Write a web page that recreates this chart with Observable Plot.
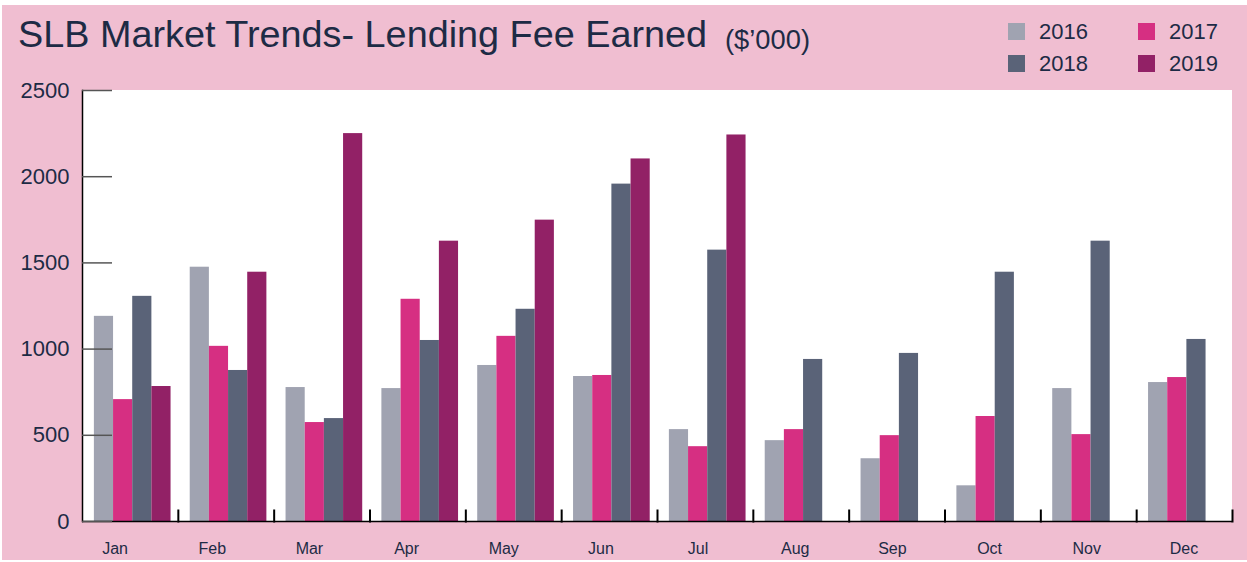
<!DOCTYPE html>
<html>
<head>
<meta charset="utf-8">
<script src="https://cdn.jsdelivr.net/npm/d3@7"></script>
<script src="https://cdn.jsdelivr.net/npm/@observablehq/plot@0.6"></script>
<style>
  body { margin: 0; background: #ffffff; }
  #wrap { position: relative; width: 1247px; height: 562px; overflow: hidden; font-family: "Liberation Sans", Arial, sans-serif; color: #1d2b45; }
  #pink { position: absolute; left: 2px; top: 5px; right: 0; bottom: 2px; background: #f0bed1; }
  #plotbg { position: absolute; left: 82px; top: 90px; width: 1150px; height: 431px; background: #ffffff; }
  .abs { position: absolute; white-space: nowrap; }
  #title { left: 18px; top: 16.4px; font-size: 37.8px; line-height: 37.8px; }
  #sub { left: 725px; top: 25.5px; font-size: 27.3px; line-height: 27.3px; }
  .lg { font-size: 22px; line-height: 22px; }
  .sw { width: 17px; height: 17px; }
  #chart, #xlab { position: absolute; left: 0; top: 0; }
</style>
</head>
<body>
<div id="wrap">
  <div id="pink"></div>
  <div id="plotbg"></div>
  <div id="title" class="abs">SLB Market Trends- Lending Fee Earned</div>
  <div id="sub" class="abs">($’000)</div>
  <div id="legend"></div>
  <div id="chart"></div>
  <div id="xlab"></div>
</div>
<script>
const months = ["Jan","Feb","Mar","Apr","May","Jun","Jul","Aug","Sep","Oct","Nov","Dec"];
const years = ["2016","2017","2018","2019"];
const colors = ["#a0a3b1","#d62f82","#5a6378","#922166"];
const v2016 = [1190,1475,777,771,905,841,533,469,364,207,771,806];
const v2017 = [707,1016,574,1289,1074,847,434,533,498,609,504,835];
const v2018 = [1306,876,597,1050,1231,1957,1574,940,975,1446,1626,1056];
const v2019 = [783,1446,2250,1626,1748,2103,2242];
const yTicks = [0,500,1000,1500,2000,2500];

const series = [v2016, v2017, v2018, v2019];
const data = [];
series.forEach((vals, si) => vals.forEach((v, mi) => data.push({month: months[mi], year: years[si], value: v})));

const W = 1247, H = 562, mT = 90, mB = 41, mL = 82, mR = 15;
const innerH = H - mT - mB;
const textColor = "#1d2b45";
const font = "'Liberation Sans', Arial, sans-serif";

// legend
const legend = document.getElementById("legend");
const legPos = [[1008, 23, 1039, 21], [1138, 23, 1169, 21], [1008, 55, 1039, 53], [1138, 55, 1169, 53]];
years.forEach((y, i) => {
  const [sx, sy, tx, ty] = legPos[i];
  const sq = document.createElement("div");
  sq.className = "abs sw";
  sq.style.left = sx + "px"; sq.style.top = sy + "px"; sq.style.background = colors[i];
  legend.appendChild(sq);
  const t = document.createElement("div");
  t.className = "abs lg";
  t.style.left = tx + "px"; t.style.top = ty + "px";
  t.textContent = y;
  legend.appendChild(t);
});

const chart = Plot.plot({
  width: W, height: H,
  marginTop: mT, marginBottom: mB, marginLeft: mL, marginRight: mR,
  style: {background: "transparent", fontFamily: font, color: textColor, overflow: "visible"},
  fx: {domain: months, padding: 0, round: false, axis: null, label: null},
  x: {domain: years, paddingInner: 0, paddingOuter: 0.5, align: 0.62, round: false, axis: null, label: null},
  y: {domain: [0, 2500], axis: null, label: null},
  color: {domain: years, range: colors},
  marks: [
    Plot.barY(data, {fx: "month", x: "year", y: "value", fill: "year"}),
    Plot.ruleY([0], {stroke: "black", strokeWidth: 1.5}),
    Plot.frame({anchor: "right", stroke: "black", strokeWidth: 2, insetTop: innerH - 11}),
    Plot.frame({anchor: "left", stroke: "black", strokeWidth: 1.5, facetAnchor: "left"}),
    Plot.axisY({ticks: yTicks, tickSize: 0, tickPadding: 13, fontSize: 22, fill: textColor, tickFormat: d => String(d), label: null}),
    Plot.axisY({ticks: yTicks, tickSize: -30, tickFormat: () => "", stroke: "#555555", strokeWidth: 1.5, label: null})
  ]
});
document.getElementById("chart").appendChild(chart);

const xlab = Plot.plot({
  width: W, height: H,
  marginTop: mT, marginBottom: mB, marginLeft: 66, marginRight: mR,
  style: {background: "transparent", fontFamily: font, color: textColor, pointerEvents: "none"},
  x: {type: "band", domain: months, padding: 0, round: false, label: null},
  marks: [
    Plot.axisX({tickSize: 0, tickPadding: 21, fontSize: 16, fill: textColor, label: null})
  ]
});
document.getElementById("xlab").appendChild(xlab);
</script>
</body>
</html>
